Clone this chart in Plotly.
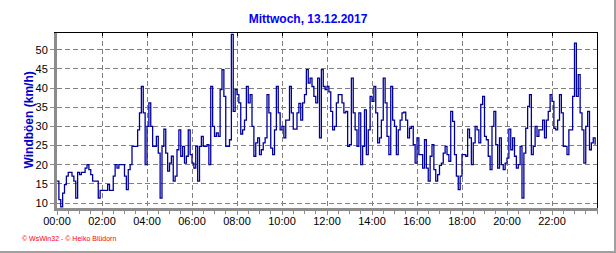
import plotly.graph_objects as go
import pandas as pd

title_text = "Mittwoch, 13.12.2017"
y_label = "Windböen (km/h)"
footer_text = "© WsWin32 - © Heiko Blüdorn"
y_ticks = [10, 15, 20, 25, 30, 35, 40, 45, 50]
x_tick_labels = ["00:00", "02:00", "04:00", "06:00", "08:00", "10:00",
                 "12:00", "14:00", "16:00", "18:00", "20:00", "22:00"]

# gusts every 5 minutes (km/h)
gusts_00_06 = [15.7, 10.9, 9.0, 12.6, 14.8, 17.0, 18.0, 18.0, 17.0, 15.7, 11.3, 18.0,
               17.4, 18.0, 18.0, 19.1, 20.0, 18.7, 17.4, 15.7, 15.7, 15.7, 11.3, 13.3,
               13.3, 13.3, 13.3, 14.8, 13.3, 13.3, 17.0, 20.0, 19.1, 20.0, 20.0, 20.0,
               17.0, 13.5, 18.7, 20.0, 24.8, 24.8, 24.8, 29.1, 33.5, 40.4, 33.5, 20.0,
               30.0, 36.1, 30.0, 24.8, 24.8, 27.4, 23.0, 11.3, 24.8, 29.3, 23.0, 18.3,
               20.4, 22.2, 15.7, 17.0, 23.9, 29.1, 22.2, 24.8, 20.4, 22.2, 29.1, 22.6]
gusts_06_12 = [20.4, 19.1, 24.8, 15.7, 24.8, 27.4, 24.8, 24.8, 25.2, 20.0, 40.4, 30.0,
               27.4, 28.3, 27.4, 39.6, 44.8, 37.8, 24.8, 24.8, 26.5, 54.0, 33.9, 39.6,
               38.3, 36.1, 28.0, 29.1, 31.6, 40.4, 36.1, 38.3, 30.0, 22.2, 25.7, 27.0,
               22.6, 23.9, 25.7, 27.0, 38.3, 33.5, 24.3, 22.6, 29.1, 40.4, 33.5, 29.1,
               30.0, 27.0, 31.6, 31.6, 40.4, 33.5, 29.3, 29.3, 33.5, 36.0, 31.6, 36.1,
               38.3, 44.8, 41.3, 42.6, 40.4, 37.8, 36.1, 42.6, 27.0, 44.8, 40.4, 39.6]
gusts_12_18 = [40.4, 39.0, 33.9, 29.1, 30.0, 36.1, 38.3, 38.3, 36.1, 33.5, 33.9, 24.8,
               25.2, 42.6, 33.5, 29.1, 24.8, 33.5, 20.0, 24.8, 34.3, 22.6, 29.1, 37.8,
               36.5, 40.4, 33.5, 25.7, 27.0, 31.6, 42.6, 36.1, 27.4, 22.6, 40.4, 31.6,
               30.0, 22.6, 29.1, 31.6, 33.5, 33.7, 31.6, 27.0, 29.5, 30.0, 25.2, 20.4,
               27.0, 22.6, 22.6, 19.1, 26.5, 19.1, 15.7, 22.2, 25.2, 18.7, 15.7, 17.4,
               19.8, 20.4, 23.0, 24.8, 22.6, 20.9, 33.9, 31.3, 22.6, 17.0, 13.5, 17.0]
gusts_18_24 = [22.6, 22.6, 22.2, 29.3, 27.0, 20.0, 25.7, 30.0, 29.1, 25.7, 35.7, 37.8,
               27.4, 26.5, 22.2, 18.7, 30.0, 33.9, 25.2, 19.1, 27.0, 20.0, 18.7, 20.4,
               21.7, 29.3, 23.9, 27.0, 22.2, 19.1, 20.0, 24.8, 11.3, 23.0, 29.5, 35.2,
               38.3, 22.6, 24.8, 30.0, 27.4, 29.1, 29.1, 31.6, 27.0, 31.6, 33.9, 38.3,
               36.5, 29.5, 29.1, 31.6, 38.3, 33.5, 24.8, 24.8, 22.6, 29.1, 29.1, 37.8,
               51.7, 37.8, 43.5, 33.5, 29.1, 20.4, 30.0, 33.9, 23.9, 25.7, 27.0, 25.2]

gusts = gusts_00_06 + gusts_06_12 + gusts_12_18 + gusts_18_24
times = pd.date_range("2017-12-13 00:00", periods=len(gusts), freq="5min")
tick_times = pd.date_range("2017-12-13 00:00", periods=len(x_tick_labels), freq="2h")

W, H = 616, 253
ml, mr, mt, mb = 57, 19, 33, 45
pw, ph = W - ml - mr, H - mt - mb

def px_x(x):
    return (x - ml) / pw

def px_y(y):
    return (H - mb - y) / ph

fig = go.Figure()
fig.add_trace(go.Scatter(x=times, y=gusts, mode="lines", line_shape="hv",
                         line=dict(color="#00009C", width=1.3), showlegend=False,
                         hoverinfo="skip"))

x_range = ["2017-12-13 00:00", "2017-12-14 00:00"]
fig.update_layout(
    width=W, height=H, margin=dict(l=ml, r=mr, t=mt, b=mb),
    paper_bgcolor="white", plot_bgcolor="white",
    font=dict(family="Liberation Sans, Arial, sans-serif", size=11, color="black"),
    title=dict(text="<b>" + title_text + "</b>", x=0.5, xanchor="center",
               y=1 - 19 / H, yanchor="middle", yref="container",
               font=dict(size=12, color="#0000FF", family="Liberation Sans, Arial, sans-serif")),
    xaxis=dict(type="date", range=x_range, tickvals=tick_times, ticktext=x_tick_labels,
               showgrid=True, gridcolor="#808080", griddash="5px,3px", gridwidth=1,
               showline=True, linecolor="#8c8c8c", linewidth=3,
               ticks="outside", ticklen=4, tickcolor="#8c8c8c",
               ticklabelstandoff=-3,
               minor=dict(dtick=30 * 60 * 1000, tick0="2017-12-13 00:00",
                          ticks="outside", ticklen=3,
                          tickcolor="#8c8c8c", showgrid=False),
               zeroline=False, fixedrange=True),
    xaxis2=dict(type="date", range=x_range, overlaying="x", side="top",
                tickvals=tick_times,
                showticklabels=False, ticks="inside", ticklen=3, tickcolor="black",
                showline=True, linecolor="black", linewidth=1, showgrid=False),
    yaxis=dict(range=[8.7, 54.35], tickvals=y_ticks,
               showgrid=True, gridcolor="#808080", griddash="5px,3px", gridwidth=1,
               showline=True, linecolor="#8c8c8c", linewidth=3,
               ticks="outside", ticklen=4, tickcolor="#8c8c8c",
               zeroline=False, fixedrange=True),
    yaxis2=dict(range=[8.7, 54.35], overlaying="y", side="right",
                showticklabels=False, ticks="", showline=True, linecolor="black",
                linewidth=1, showgrid=False, zeroline=False),
)

# invisible trace so the secondary (frame) axes are drawn
fig.add_trace(go.Scatter(x=[times[0]], y=[gusts[0]], xaxis="x2", yaxis="y2",
                         mode="markers", marker=dict(opacity=0), showlegend=False,
                         hoverinfo="skip"))

fig.add_annotation(text="<b>" + y_label + "</b>", xref="paper", yref="paper",
                   x=px_x(28), y=0.5, textangle=-90, showarrow=False,
                   xanchor="center", yanchor="middle",
                   font=dict(size=12, color="#0000CC"))
fig.add_annotation(text=footer_text, xref="paper", yref="paper",
                   x=px_x(20), y=px_y(238.5), showarrow=False,
                   xanchor="left", yanchor="middle",
                   font=dict(size=7, color="#FF0000"))

# window frame lines on right and bottom edges
fig.add_shape(type="line", xref="paper", yref="paper",
              x0=px_x(615), x1=px_x(615), y0=px_y(0), y1=px_y(253),
              line=dict(color="#a0a0a0", width=2))
fig.add_shape(type="line", xref="paper", yref="paper",
              x0=px_x(0), x1=px_x(616), y0=px_y(252), y1=px_y(252),
              line=dict(color="#a0a0a0", width=2))

fig.write_html("out.html")
